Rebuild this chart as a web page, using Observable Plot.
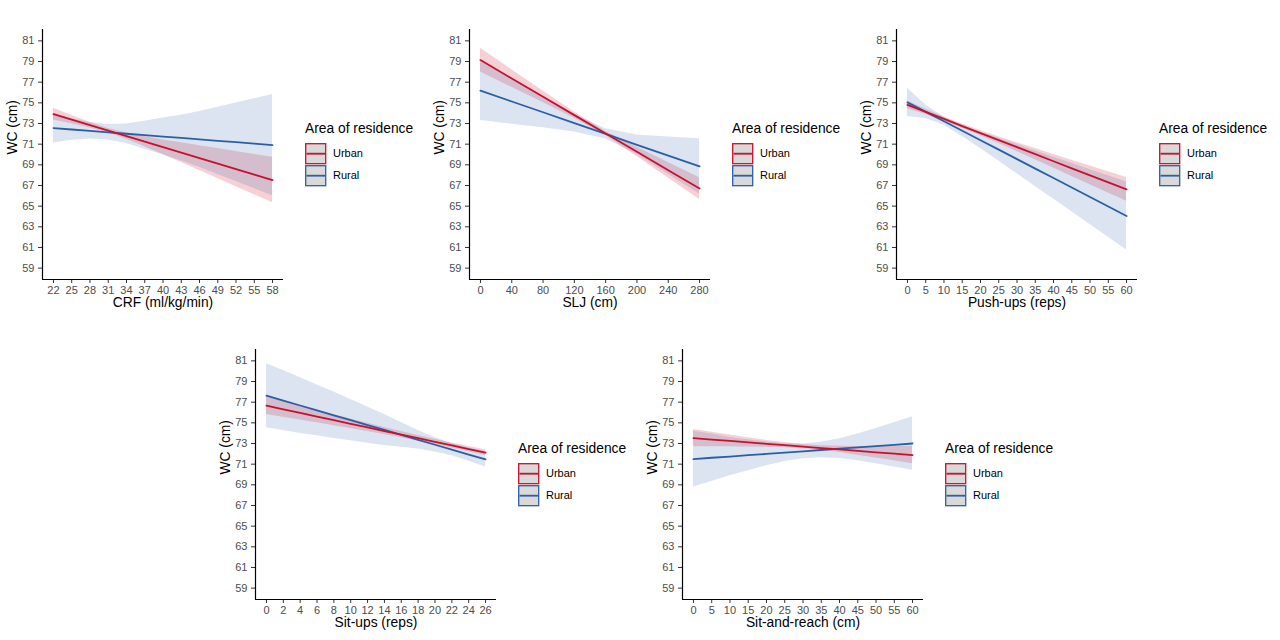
<!DOCTYPE html>
<html>
<head>
<meta charset="utf-8">
<script src="https://cdn.jsdelivr.net/npm/d3@7"></script>
<script src="https://cdn.jsdelivr.net/npm/@observablehq/plot@0.6"></script>
<style>
  body { margin: 0; background: #fff; font-family: "Liberation Sans", Arial, sans-serif; }
  #root { position: relative; width: 1280px; height: 640px; overflow: hidden; background: #fff; }
  .panel { position: absolute; }
  .legend { position: absolute; width: 150px; height: 80px; }
  .legend .title { position: absolute; left: 0; top: 0; font-size: 13.8px; line-height: 16px; color: #000; white-space: nowrap; }
  .legend .lab { position: absolute; left: 28px; font-size: 11px; line-height: 13px; color: #000; white-space: nowrap; }
</style>
</head>
<body>
<div id="root"></div>
<script>
// ---------- data ----------
const groups = ["Urban", "Rural"];
const legendTitle = "Area of residence";
const yLabel = "WC (cm)";
const yTicks = [59, 61, 63, 65, 67, 69, 71, 73, 75, 77, 79, 81];

// Panel 1: CRF
const crfLabel = "CRF (ml/kg/min)";
const crfTicks = [22, 25, 28, 31, 34, 37, 40, 43, 46, 49, 52, 55, 58];
const crfX = [22, 25, 28, 31, 34, 37, 40, 43, 46, 49, 52, 55, 58];
const crfUrbanFit = [73.90, 73.37, 72.84, 72.31, 71.78, 71.25, 70.71, 70.18, 69.65, 69.12, 68.59, 68.06, 67.53];
const crfUrbanLo  = [73.33, 72.97, 72.57, 72.11, 71.48, 70.75, 70.01, 69.23, 68.45, 67.67, 66.89, 66.11, 65.33];
const crfUrbanHi  = [74.47, 73.77, 73.11, 72.51, 72.08, 71.75, 71.41, 71.13, 70.85, 70.57, 70.29, 70.01, 69.73];
const crfRuralFit = [72.56, 72.42, 72.29, 72.15, 72.01, 71.87, 71.74, 71.60, 71.46, 71.32, 71.19, 71.05, 70.91];
const crfRuralLo  = [71.11, 71.37, 71.49, 71.40, 71.06, 70.52, 69.94, 69.40, 68.76, 68.07, 67.39, 66.70, 66.01];
const crfRuralHi  = [74.01, 73.47, 73.09, 72.90, 72.96, 73.22, 73.54, 73.80, 74.16, 74.57, 74.99, 75.40, 75.81];

// Panel 2: SLJ
const sljLabel = "SLJ (cm)";
const sljTicks = [0, 40, 80, 120, 160, 200, 240, 280];
const sljX = [0, 40, 80, 120, 160, 200, 240, 280];
const sljUrbanFit = [79.14, 77.36, 75.59, 73.81, 72.03, 70.26, 68.48, 66.70];
const sljUrbanLo  = [77.99, 76.51, 75.04, 73.51, 71.83, 69.81, 67.73, 65.65];
const sljUrbanHi  = [80.29, 78.21, 76.14, 74.11, 72.23, 70.71, 69.23, 67.75];
const sljRuralFit = [76.18, 75.13, 74.09, 73.04, 71.99, 70.94, 69.90, 68.85];
const sljRuralLo  = [73.28, 72.93, 72.59, 72.19, 71.49, 69.99, 68.10, 66.18];
const sljRuralHi  = [79.08, 77.33, 75.59, 73.89, 72.49, 71.89, 71.70, 71.52];

// Panel 3: Push-ups
const pushLabel = "Push-ups (reps)";
const pushTicks = [0, 5, 10, 15, 20, 25, 30, 35, 40, 45, 50, 55, 60];
const pushX = [0, 5, 10, 15, 20, 25, 30, 35, 40, 45, 50, 55, 60];
const pushUrbanFit = [74.80, 74.12, 73.44, 72.75, 72.07, 71.39, 70.71, 70.03, 69.35, 68.66, 67.98, 67.30, 66.62];
const pushUrbanLo  = [74.43, 73.87, 73.24, 72.55, 71.82, 71.06, 70.28, 69.49, 68.69, 67.88, 67.08, 66.27, 65.47];
const pushUrbanHi  = [75.17, 74.37, 73.64, 72.95, 72.32, 71.72, 71.14, 70.57, 70.01, 69.44, 68.88, 68.33, 67.77];
const pushRuralFit = [75.05, 74.13, 73.22, 72.30, 71.38, 70.47, 69.55, 68.63, 67.72, 66.80, 65.88, 64.97, 64.05];
const pushRuralLo  = [73.68, 73.48, 72.82, 71.75, 70.58, 69.37, 68.13, 66.91, 65.70, 64.45, 63.23, 62.00, 60.75];
const pushRuralHi  = [76.42, 74.78, 73.62, 72.85, 72.18, 71.57, 70.97, 70.35, 69.74, 69.15, 68.53, 67.94, 67.35];

// Panel 4: Sit-ups
const situpLabel = "Sit-ups (reps)";
const situpTicks = [0, 2, 4, 6, 8, 10, 12, 14, 16, 18, 20, 22, 24, 26];
const situpX = [0, 2, 4, 6, 8, 10, 12, 14, 16, 18, 20, 22, 24, 26];
const situpUrbanFit = [76.66, 76.31, 75.96, 75.61, 75.26, 74.91, 74.56, 74.21, 73.86, 73.51, 73.16, 72.81, 72.46, 72.11];
const situpUrbanLo  = [75.81, 75.54, 75.27, 75.00, 74.73, 74.45, 74.16, 73.87, 73.56, 73.24, 72.91, 72.56, 72.20, 71.83];
const situpUrbanHi  = [77.51, 77.08, 76.65, 76.22, 75.79, 75.37, 74.96, 74.55, 74.16, 73.78, 73.41, 73.06, 72.72, 72.39];
const situpRuralFit = [77.63, 77.16, 76.68, 76.21, 75.73, 75.26, 74.78, 74.31, 73.83, 73.36, 72.88, 72.41, 71.93, 71.46];
const situpRuralLo  = [74.53, 74.26, 73.98, 73.76, 73.48, 73.26, 73.03, 72.81, 72.63, 72.46, 72.18, 71.81, 71.28, 70.72];
const situpRuralHi  = [80.73, 80.06, 79.38, 78.66, 77.98, 77.26, 76.53, 75.81, 75.03, 74.26, 73.58, 73.01, 72.58, 72.20];

// Panel 5: Sit-and-reach
const reachLabel = "Sit-and-reach (cm)";
const reachTicks = [0, 5, 10, 15, 20, 25, 30, 35, 40, 45, 50, 55, 60];
const reachX = [0, 5, 10, 15, 20, 25, 30, 35, 40, 45, 50, 55, 60];
const reachUrbanFit = [73.52, 73.38, 73.25, 73.11, 72.97, 72.84, 72.70, 72.56, 72.43, 72.29, 72.15, 72.02, 71.88];
const reachUrbanLo  = [72.69, 72.68, 72.68, 72.66, 72.64, 72.59, 72.50, 72.34, 72.13, 71.87, 71.60, 71.32, 71.03];
const reachUrbanHi  = [74.35, 74.08, 73.82, 73.56, 73.30, 73.09, 72.90, 72.78, 72.73, 72.71, 72.70, 72.72, 72.73];
const reachRuralFit = [71.49, 71.62, 71.74, 71.87, 71.99, 72.12, 72.24, 72.37, 72.50, 72.62, 72.75, 72.87, 73.00];
const reachRuralLo  = [68.79, 69.32, 69.89, 70.37, 70.84, 71.27, 71.52, 71.62, 71.55, 71.32, 71.05, 70.72, 70.40];
const reachRuralHi  = [74.19, 73.92, 73.59, 73.37, 73.14, 72.97, 72.96, 73.12, 73.45, 73.92, 74.45, 75.02, 75.60];

// ---------- styles ----------
const lineColor = {Urban: "#C8102E", Rural: "#2B5FA5"};
const ribbonColor = {Urban: "#D7142D", Rural: "#2B5FA5"};
const ribbonOpacity = {Urban: 0.2, Rural: 0.17};
const FONT = '"Liberation Sans", Arial, sans-serif';

const panels = [
  {left: 0,   top: 0,   label: crfLabel,   ticks: crfTicks,   x: crfX,
   Urban: {fit: crfUrbanFit, lo: crfUrbanLo, hi: crfUrbanHi}, Rural: {fit: crfRuralFit, lo: crfRuralLo, hi: crfRuralHi}},
  {left: 427, top: 0,   label: sljLabel,   ticks: sljTicks,   x: sljX,
   Urban: {fit: sljUrbanFit, lo: sljUrbanLo, hi: sljUrbanHi}, Rural: {fit: sljRuralFit, lo: sljRuralLo, hi: sljRuralHi}},
  {left: 854, top: 0,   label: pushLabel,  ticks: pushTicks,  x: pushX,
   Urban: {fit: pushUrbanFit, lo: pushUrbanLo, hi: pushUrbanHi}, Rural: {fit: pushRuralFit, lo: pushRuralLo, hi: pushRuralHi}},
  {left: 213, top: 320, label: situpLabel, ticks: situpTicks, x: situpX,
   Urban: {fit: situpUrbanFit, lo: situpUrbanLo, hi: situpUrbanHi}, Rural: {fit: situpRuralFit, lo: situpRuralLo, hi: situpRuralHi}},
  {left: 640, top: 320, label: reachLabel, ticks: reachTicks, x: reachX,
   Urban: {fit: reachUrbanFit, lo: reachUrbanLo, hi: reachUrbanHi}, Rural: {fit: reachRuralFit, lo: reachRuralLo, hi: reachRuralHi}}
];

const root = d3.select("#root");

function makePanel(cfg) {
  const rows = [];
  groups.forEach(g => cfg.x.forEach((x, i) => rows.push({group: g, x, fit: cfg[g].fit[i], lo: cfg[g].lo[i], hi: cfg[g].hi[i]})));
  const ext = d3.extent(cfg.ticks);
  const pad = (ext[1] - ext[0]) * 0.05;
  const xDom = [ext[0] - pad, ext[1] + pad];
  const yExt = d3.extent(yTicks);
  const ypad = (yExt[1] - yExt[0]) * 0.05;
  const yDom = [yExt[0] - ypad, yExt[1] + ypad];
  const marks = [];
  groups.forEach(g => {
    const d = rows.filter(r => r.group === g);
    marks.push(Plot.areaY(d, {x: "x", y1: "lo", y2: "hi", fill: ribbonColor[g], fillOpacity: ribbonOpacity[g]}));
  });
  ["Rural", "Urban"].forEach(g => {
    const d = rows.filter(r => r.group === g);
    marks.push(Plot.lineY(d, {x: "x", y: "fit", stroke: lineColor[g], strokeWidth: 1.8}));
  });
  marks.push(Plot.axisY({ticks: yTicks, tickSize: 4, tickPadding: 4, fontSize: 11, stroke: "#333", fill: "#4d4d4d", label: null}));
  marks.push(Plot.axisX({ticks: cfg.ticks, tickSize: 4, tickPadding: 2.5, fontSize: 11, stroke: "#333", fill: "#4d4d4d", label: null, tickFormat: d => String(d)}));
  marks.push(Plot.ruleX([xDom[0]], {stroke: "#000", strokeWidth: 1.2}));
  marks.push(Plot.ruleY([yDom[0]], {stroke: "#000", strokeWidth: 1.2}));
  marks.push(Plot.text([cfg.label], {frameAnchor: "bottom", dy: 27, fontSize: 13.8, fill: "#000"}));
  marks.push(Plot.text([yLabel], {frameAnchor: "left", dx: -30, rotate: -90, fontSize: 13.8, fill: "#000"}));
  const svg = Plot.plot({
    width: 300, height: 320,
    marginLeft: 42, marginRight: 17, marginTop: 29, marginBottom: 41,
    x: {domain: xDom}, y: {domain: yDom},
    style: {fontFamily: FONT, background: "transparent", overflow: "visible"},
    marks
  });
  root.append("div").attr("class", "panel")
    .style("left", cfg.left + "px").style("top", cfg.top + "px")
    .node().appendChild(svg);

  // legend
  const lg = root.append("div").attr("class", "legend")
    .style("left", (cfg.left + 305) + "px").style("top", (cfg.top + 121.3) + "px");
  lg.append("div").attr("class", "title").text(legendTitle);
  groups.forEach((g, i) => {
    const ks = lg.append("svg").attr("width", 22).attr("height", 22)
      .style("position", "absolute").style("left", "0px").style("top", (22 + i * 21.7) + "px");
    ks.append("rect").attr("x", 0.7).attr("y", 0.7).attr("width", 20).attr("height", 20)
      .attr("fill", "#d9d9d9").attr("stroke", lineColor[g]).attr("stroke-width", 1.3);
    ks.append("line").attr("x1", 1.5).attr("x2", 20).attr("y1", 10.7).attr("y2", 10.7)
      .attr("stroke", lineColor[g]).attr("stroke-width", 1.8);
    lg.append("div").attr("class", "lab").style("top", (25.7 + i * 21.7) + "px").text(g);
  });
}

panels.forEach(makePanel);
</script>
</body>
</html>
